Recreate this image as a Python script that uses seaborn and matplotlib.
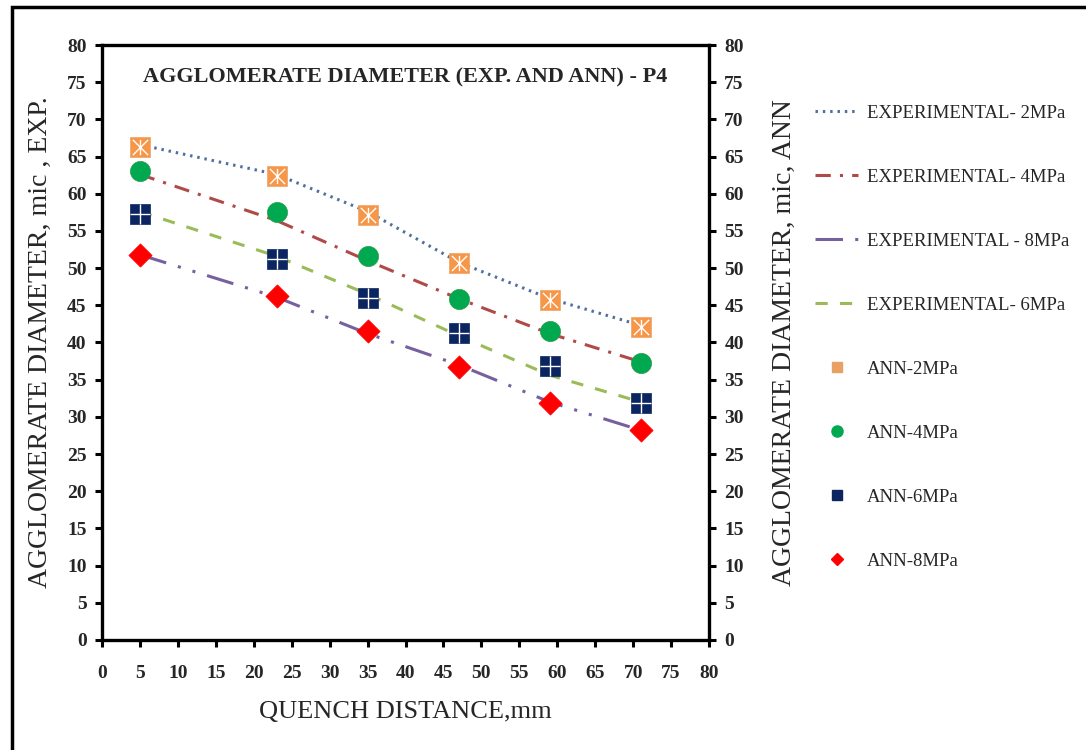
import numpy as np
import pandas as pd
import matplotlib
matplotlib.use("Agg")
import matplotlib.pyplot as plt
from matplotlib.lines import Line2D
from matplotlib.patches import Rectangle
from matplotlib.path import Path
import seaborn as sns

# Quench distance (mm)
distance = [5, 23, 35, 47, 59, 71]

# Experimental agglomerate diameter (mic)
exp_2 = [66.6, 62.6, 57.6, 50.8, 45.9, 42.3]
exp_4 = [62.6, 56.4, 51.0, 45.9, 41.2, 37.4]
exp_8 = [51.8, 46.1, 41.2, 37.0, 32.0, 28.2]
exp_6 = [57.6, 51.6, 46.5, 40.9, 35.6, 32.0]

# ANN predicted agglomerate diameter (mic)
ann_2 = [66.3, 62.4, 57.2, 50.7, 45.7, 42.1]
ann_4 = [63.0, 57.5, 51.6, 45.8, 41.5, 37.2]
ann_6 = [57.3, 51.2, 46.0, 41.3, 36.8, 31.9]
ann_8 = [51.8, 46.3, 41.5, 36.7, 31.9, 28.2]

exp_labels = ["EXPERIMENTAL- 2MPa", "EXPERIMENTAL- 4MPa",
              "EXPERIMENTAL - 8MPa", "EXPERIMENTAL- 6MPa"]
ann_labels = ["ANN-2MPa", "ANN-4MPa", "ANN-6MPa", "ANN-8MPa"]
y_ticks = list(range(0, 81, 5))
x_ticks = list(range(0, 81, 5))

sns.set_theme(style="white")
plt.rcParams["font.family"] = ["Liberation Serif", "DejaVu Serif"]

fig = plt.figure(figsize=(10.86, 7.5), dpi=100)
ax = fig.add_axes([0.0939, 0.1467, 0.559, 0.7933])

# Experimental curves
exp_styles = [
    (exp_2, "#4F6F9F", (0, (0.8, 1.6))),
    (exp_4, "#B04A48", (0, (5, 3, 1, 3))),
    (exp_8, "#77609E", (0, (9, 4, 1, 4, 1, 4))),
    (exp_6, "#9BBB59", (0, (4, 4))),
]
for vals, col, ls in exp_styles:
    sns.lineplot(x=distance, y=vals, ax=ax, color=col, linewidth=2.2,
                 linestyle=ls, zorder=2)

# cross-with-vertical-bar glyph drawn over the orange squares
star_path = Path([(-1, -1), (1, 1), (-1, 1), (1, -1), (0, -1), (0, 1)],
                 [Path.MOVETO, Path.LINETO, Path.MOVETO, Path.LINETO,
                  Path.MOVETO, Path.LINETO])

# ANN predictions
sns.scatterplot(x=distance, y=ann_2, ax=ax, marker="s", s=190,
                color="#F79646", edgecolor="#E9A56A", linewidth=0.5, zorder=3)
sns.scatterplot(x=distance, y=ann_2, ax=ax, marker=star_path, s=120,
                color="#8C8C8C", linewidth=1.0, zorder=4)
sns.scatterplot(x=distance, y=ann_4, ax=ax, marker="o", s=210,
                color="#00A84F", edgecolor="#2E9A4A", linewidth=0.5, zorder=3)
sns.scatterplot(x=distance, y=ann_6, ax=ax, marker="s", s=190,
                color="#0B2560", edgecolor="#0B2560", linewidth=0.5, zorder=3)
sns.scatterplot(x=distance, y=ann_6, ax=ax, marker="+", s=190,
                color="white", linewidth=1.0, zorder=4)
sns.scatterplot(x=distance, y=ann_8, ax=ax, marker="D", s=140,
                color="#FF0000", edgecolor="#FF0000", linewidth=0.5, zorder=3)

tick_fs = 14
ax.set_xlim(0, 80)
ax.set_ylim(0, 80)
ax.set_xticks(x_ticks)
ax.set_yticks(y_ticks)
ax.set_xticklabels([str(t) for t in x_ticks], fontsize=tick_fs, fontweight="bold")
ax.set_yticklabels([str(t) for t in y_ticks], fontsize=tick_fs, fontweight="bold")
ax.tick_params(axis="both", direction="out", length=5, width=2.2,
               color="black", pad=6, left=True, bottom=True)
ax.tick_params(axis="x", pad=13)
for sp in ax.spines.values():
    sp.set_color("black")
    sp.set_linewidth(2.4)
ax.grid(False)

ax.set_xlabel("QUENCH DISTANCE,mm", fontsize=19, labelpad=14)
ax.set_ylabel("AGGLOMERATE DIAMETER, mic , EXP.", fontsize=20, labelpad=10)
ax.text(0.5, 0.945, "AGGLOMERATE DIAMETER (EXP. AND ANN) - P4",
        transform=ax.transAxes, ha="center", va="center",
        fontsize=16, fontweight="bold")

# Right-hand axis for ANN values
ax2 = ax.twinx()
ax2.set_ylim(0, 80)
ax2.set_yticks(y_ticks)
ax2.set_yticklabels([str(t) for t in y_ticks], fontsize=tick_fs, fontweight="bold")
ax2.tick_params(axis="y", direction="out", length=5, width=2.2,
                color="black", pad=6, right=True)
ax2.grid(False)
for sp in ax2.spines.values():
    sp.set_visible(False)
ax2.set_ylabel("AGGLOMERATE DIAMETER, mic, ANN", fontsize=20, labelpad=20)

# Legend
handles = [Line2D([], [], color=c, lw=2.2, linestyle=ls) for _, c, ls in exp_styles]
handles += [
    Line2D([], [], marker="s", ls="none", color="#E9A064", markersize=7),
    Line2D([], [], marker="o", ls="none", color="#00A84F", markersize=8),
    Line2D([], [], marker="s", ls="none", color="#0B2560", markersize=7),
    Line2D([], [], marker="D", ls="none", color="#FF0000", markersize=6),
]
fig.legend(handles, exp_labels + ann_labels, loc="upper left",
           bbox_to_anchor=(0.735, 0.883), frameon=False, fontsize=13.5,
           handlelength=2.3, handletextpad=0.45, labelspacing=2.5)

# Outer border
fig.add_artist(Rectangle((12 / 1086, -0.2), 2, 0.2 + 743 / 750,
                         transform=fig.transFigure, fill=False,
                         edgecolor="black", linewidth=2.5, clip_on=False))

fig.savefig("out.png", dpi=100)
